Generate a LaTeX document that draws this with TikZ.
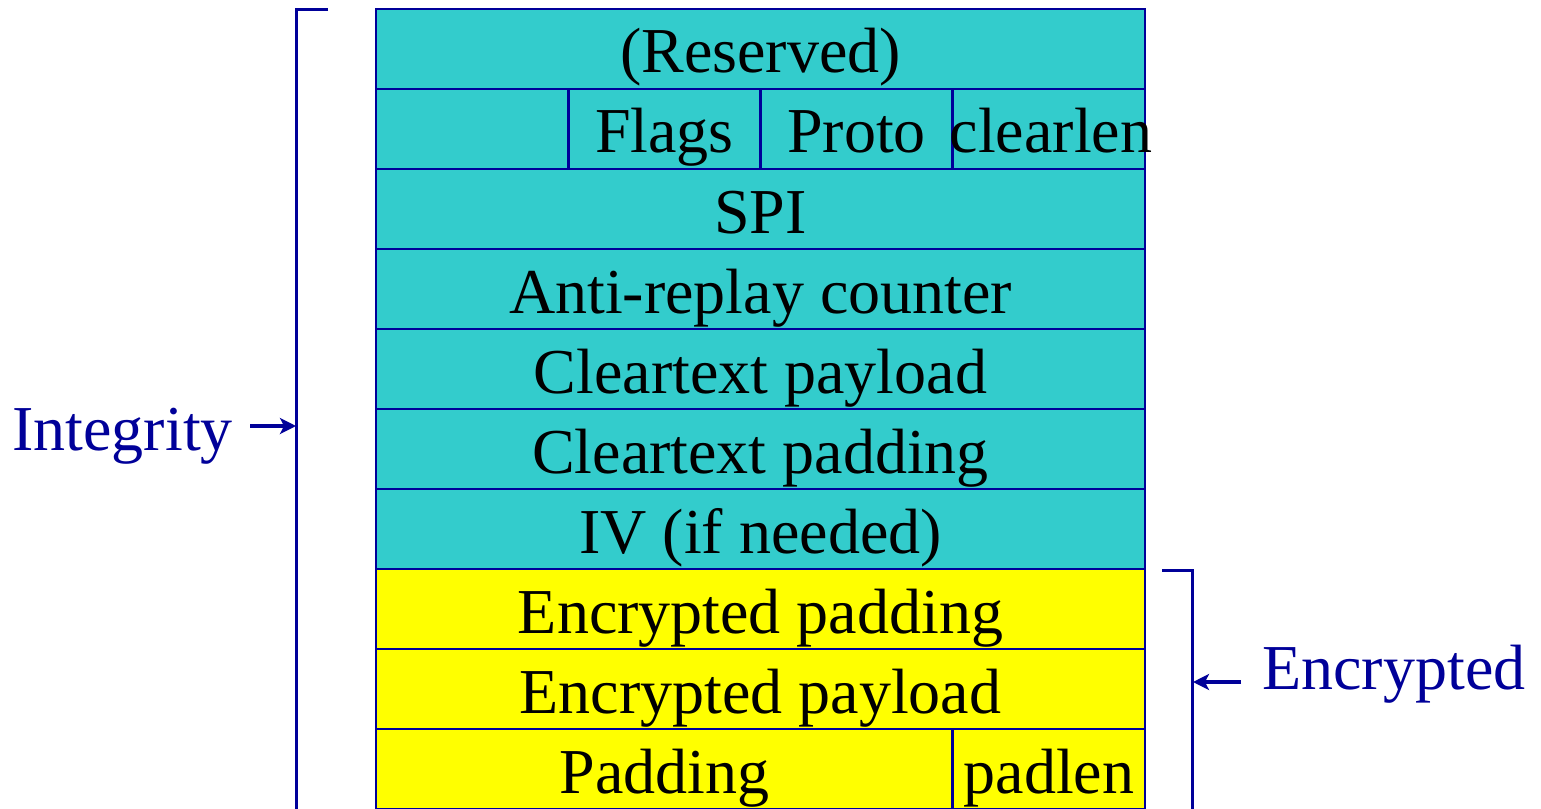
\documentclass[tikz,border=0pt]{standalone}
\usepackage{fontspec}
\setmainfont{Liberation Serif}
\usetikzlibrary{arrows.meta}
\definecolor{navy}{RGB}{0,0,153}
\definecolor{cyanfill}{RGB}{51,204,204}
\definecolor{yelfill}{RGB}{255,255,0}
\begin{document}
\begin{tikzpicture}[x=0.5pt,y=-0.5pt,
  cell/.style={draw=navy, line width=1.4pt, inner sep=0pt, outer sep=0pt,
    text height=27pt, text depth=3pt, font=\fontsize{32}{38}\selectfont,
    minimum height=40pt},
  full/.style={cell, minimum width=384.5pt},
  quarter/.style={cell, minimum width=96.125pt},
  cy/.style={fill=cyanfill},
  ye/.style={fill=yelfill},
  lab/.style={text=navy, inner sep=0pt, font=\fontsize{32}{38}\selectfont},
  brk/.style={draw=navy, line width=1.5pt},
  arr/.style={draw=navy, line width=2pt, -{Stealth[length=8pt,width=8pt,inset=2pt]}}]
\useasboundingbox (0,0) rectangle (1541,808);
% rows
\node[full,cy] (r0) at (760.5,49) {(Reserved)};
\node[quarter,cy] (q1) at (472.1,129) {};
\node[quarter,cy] (q2) at (664.4,129) {Flags};
\node[quarter,cy] (q3) at (856.6,129) {Proto};
\node[quarter,cy] (q4) at (1048.9,129) {\makebox[0pt][c]{\hspace{2pt}clearlen}};
\node[full,cy] (r2) at (760.5,209) {SPI};
\node[full,cy] (r3) at (760.5,289) {Anti-replay counter};
\node[full,cy] (r4) at (760.5,369) {Cleartext payload};
\node[full,cy] (r5) at (760.5,449) {Cleartext padding};
\node[full,cy] (r6) at (760.5,529) {IV (if needed)};
\node[full,ye] (r7) at (760.5,609) {Encrypted padding};
\node[full,ye] (r8) at (760.5,689) {Encrypted payload};
\node[cell,ye,minimum width=288.5pt] (p1) at (664.5,769) {Padding};
\node[quarter,ye] (p2) at (1048.9,769) {padlen};
% left bracket
\coordinate (lt) at (328,10);
\coordinate (lc) at (296,10);
\coordinate (lb) at (296,815);
\coordinate (la) at (296,426);
\coordinate (ia) at (250,426);
\draw[brk] (lt) -- (lc) -- (lb);
\draw[arr] (ia) -- (la);
\node[lab, anchor=base west] (integ) at (12,450) {Integrity};
% right bracket
\coordinate (rt) at (1162,570);
\coordinate (rc) at (1192,570);
\coordinate (rb) at (1192,815);
\coordinate (ra) at (1193,682);
\coordinate (ea) at (1241,682);
\draw[brk] (rt) -- (rc) -- (rb);
\draw[arr] (ea) -- (ra);
\node[lab, anchor=base west] (encr) at (1262,689) {Encrypted};
\end{tikzpicture}
\end{document}
